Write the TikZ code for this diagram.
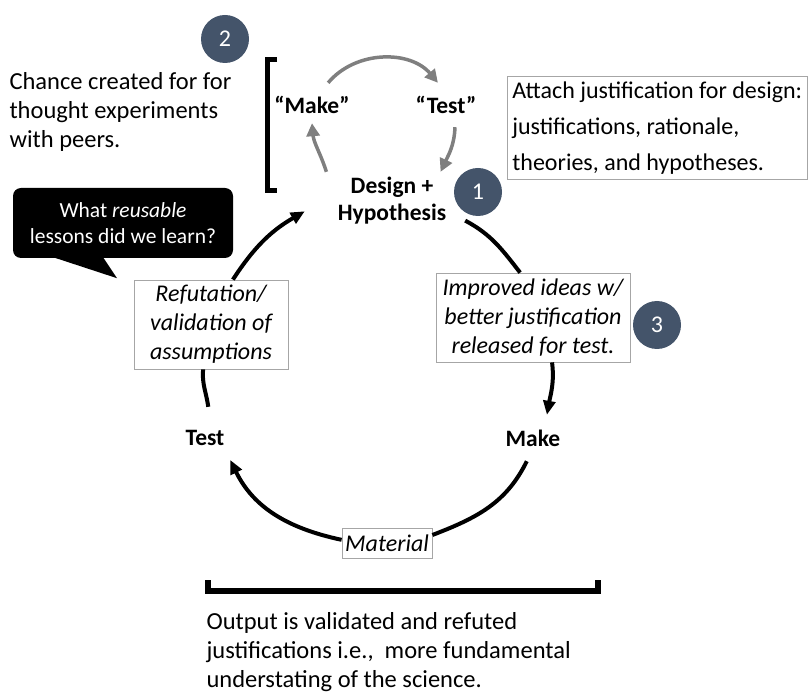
\documentclass[tikz,border=0pt]{standalone}
\usepackage{fontspec}
\setmainfont{Carlito}
\usetikzlibrary{arrows.meta}
\definecolor{slateblue}{HTML}{44546A}
\definecolor{boxgray}{HTML}{A6A6A6}
\definecolor{arcgray}{HTML}{7F7F7F}

\begin{document}
\begin{tikzpicture}[x=1pt,y=1pt,
  txt/.style={font=\fontsize{24.5}{29}\selectfont},
  stage/.style={font=\bfseries\fontsize{23.5}{27}\selectfont, inner sep=0pt},
  note/.style={draw=boxgray, line width=0.8pt, fill=white, align=center, inner sep=0pt, font=\itshape\fontsize{24}{29}\selectfont},
  num/.style={circle, fill=slateblue, minimum size=48pt, inner sep=0pt, text=white, font=\fontsize{24}{24}\selectfont},
  flowline/.style={line width=4pt},
  flowtip/.style={-{Triangle[length=14pt,width=12pt]}},
  graycyc/.style={arcgray, line width=3.5pt, -{Triangle[length=13pt,width=13pt]}}]
\useasboundingbox (0,0) rectangle (811,-692);

% outer cycle
\node[stage, align=center, minimum width=146pt, minimum height=58pt] (dh) at (392,-201) {Design +\\Hypothesis};
\node[stage, minimum width=56pt, minimum height=46pt] (make) at (533,-438) {Make};
\node[stage, minimum width=50pt, minimum height=62pt] (test) at (205,-438) {Test};
\node[note, minimum width=194pt, minimum height=89pt] (imp) at (533,-317.5) {Improved ideas w/\\better justification\\released for test.};
\node[note, minimum width=154pt, minimum height=89pt] (ref) at (211,-324.5) {Refutation/\\validation of\\assumptions};
\node[note, minimum width=90pt, minimum height=30pt] (mat) at (387,-543) {Material};

\draw[flowline] (dh.-15) to[out=-28, in=128] (imp.106);
\draw[flowline, flowtip] (imp.-67) to[out=-83, in=80] (make.59);
\draw[flowline] (make.-105) to[out=-116, in=21] (mat.10);
\draw[flowline, flowtip] (mat.176) to[out=168, in=-64] (test.-41);
\draw[flowline] (test.84) to[out=98, in=-95] (ref.-100);
\draw[flowline, flowtip] (ref.64) to[out=57, in=-150] ([xshift=-14pt]dh.188);

% inner cycle
\node[stage, minimum width=77pt, minimum height=44pt] (makeq) at (312,-105) {“Make”};
\node[stage, minimum width=62pt, minimum height=44pt] (testq) at (446,-105) {“Test”};
\draw[graycyc] (makeq.54) to[out=50, in=130] (testq.110);
\draw[graycyc] (testq.-68) to[out=-92, in=65] (dh.31);
\draw[graycyc] (dh.156) to[out=108, in=-85] ([yshift=4pt]makeq.south);

% brackets
\draw[line width=5pt] (277,-60) -- (267.5,-60) -- (267.5,-191) -- (277,-191);
\draw[line width=6pt] (208,-580) -- (208,-591) -- (598,-591) -- (598,-580);

% numbered markers
\node[num] (one) at (478,-192) {1};
\node[num] (two) at (225,-39) {2};
\node[num] (three) at (657,-325) {3};

% notes
\node[txt, anchor=west, align=left] (chance) at (6,-112) {Chance created for for\\thought experiments\\with peers.};
\node[draw=boxgray, line width=0.8pt, anchor=north west, align=left, inner sep=5pt, font=\fontsize{24}{36}\selectfont] (attach) at (507,-76) {Attach justification for design:\\justifications, rationale,\\theories, and hypotheses.};
\node[fill=black, rounded corners=8pt, minimum width=220pt, minimum height=70pt, text=white, align=center, font=\fontsize{21.5}{26}\selectfont] (lessons) at (123,-223) {What \textit{reusable}\\lessons did we learn?};
\fill ([xshift=-70pt,yshift=1pt]lessons.south) -- ([xshift=-6pt,yshift=-20pt]lessons.south) -- ([xshift=-20pt,yshift=1pt]lessons.south) -- cycle;
\node[txt, anchor=west, align=left] (output) at (203,-652) {Output is validated and refuted\\justifications i.e.,\ \ more fundamental\\understating of the science.};
\end{tikzpicture}
\end{document}
